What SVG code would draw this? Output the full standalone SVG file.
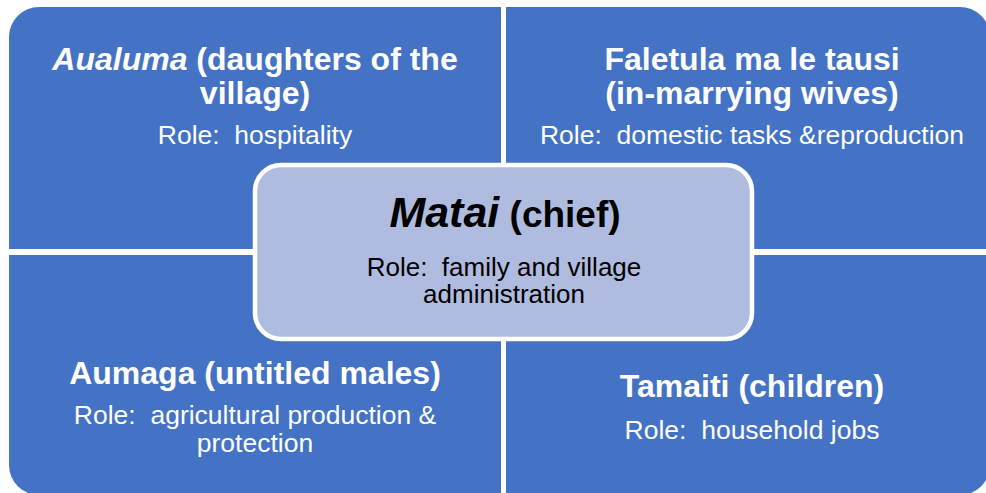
<svg xmlns="http://www.w3.org/2000/svg" width="986" height="493" viewBox="0 0 986 493">
  <style>
    .quad { fill: #4472C4; }
    text { white-space: pre; }
    .head { font-family: "Liberation Sans", Arial, sans-serif; font-weight: bold; font-size: 32px; fill: #FFFFFF; text-anchor: middle; }
    .role { font-family: "Liberation Sans", Arial, sans-serif; font-size: 26.5px; fill: #FFFFFF; text-anchor: middle; }
    .chief { font-family: "Liberation Sans", Arial, sans-serif; font-weight: bold; fill: #000000; text-anchor: middle; }
    .crole { font-family: "Liberation Sans", Arial, sans-serif; font-size: 26px; fill: #000000; text-anchor: middle; }
  </style>
  <rect width="986" height="493" fill="#FFFFFF"/>

  <!-- four quadrants, each rounded on its outer corner -->
  <g id="auauluma">
    <path class="quad" d="M9,37 A30,30 0 0 1 39,7 L501,7 L501,249 L9,249 Z"/>
    <text class="head" x="255" y="70" xml:space="preserve"><tspan font-style="italic">Aualuma</tspan> (daughters of the</text>
    <text class="head" x="255" y="104">village)</text>
    <text class="role" x="255" y="144" xml:space="preserve">Role:  hospitality</text>
  </g>
  <g id="faletula">
    <path class="quad" d="M506,7 L960,7 A30,30 0 0 1 990,37 L990,249 L506,249 Z"/>
    <text class="head" x="752" y="70">Faletula ma le tausi</text>
    <text class="head" x="752" y="104">(in-marrying wives)</text>
    <text class="role" x="752" y="144" xml:space="preserve">Role:  domestic tasks &amp;reproduction</text>
  </g>
  <g id="aumaga">
    <path class="quad" d="M9,255 L501,255 L501,495 L39,495 A30,30 0 0 1 9,465 Z"/>
    <text class="head" x="255" y="384">Aumaga (untitled males)</text>
    <text class="role" x="255" y="424" xml:space="preserve">Role:  agricultural production &amp;</text>
    <text class="role" x="255" y="452">protection</text>
  </g>
  <g id="tamaiti">
    <path class="quad" d="M506,255 L990,255 L990,465 A30,30 0 0 1 960,495 L506,495 Z"/>
    <text class="head" x="752" y="397">Tamaiti (children)</text>
    <text class="role" x="752" y="439" xml:space="preserve">Role:  household jobs</text>
  </g>

  <!-- central chief box -->
  <g id="matai">
    <rect x="255" y="165" width="497" height="174" rx="26" fill="#AFBCDF" stroke="#FFFFFF" stroke-width="4.5"/>
    <text class="chief" x="505" y="227" xml:space="preserve"><tspan font-style="italic" font-size="43px">Matai</tspan><tspan font-size="37px"> (chief)</tspan></text>
    <text class="crole" x="504" y="276" xml:space="preserve">Role:  family and village</text>
    <text class="crole" x="504" y="303">administration</text>
  </g>

  <g id="connectors"/>
</svg>
